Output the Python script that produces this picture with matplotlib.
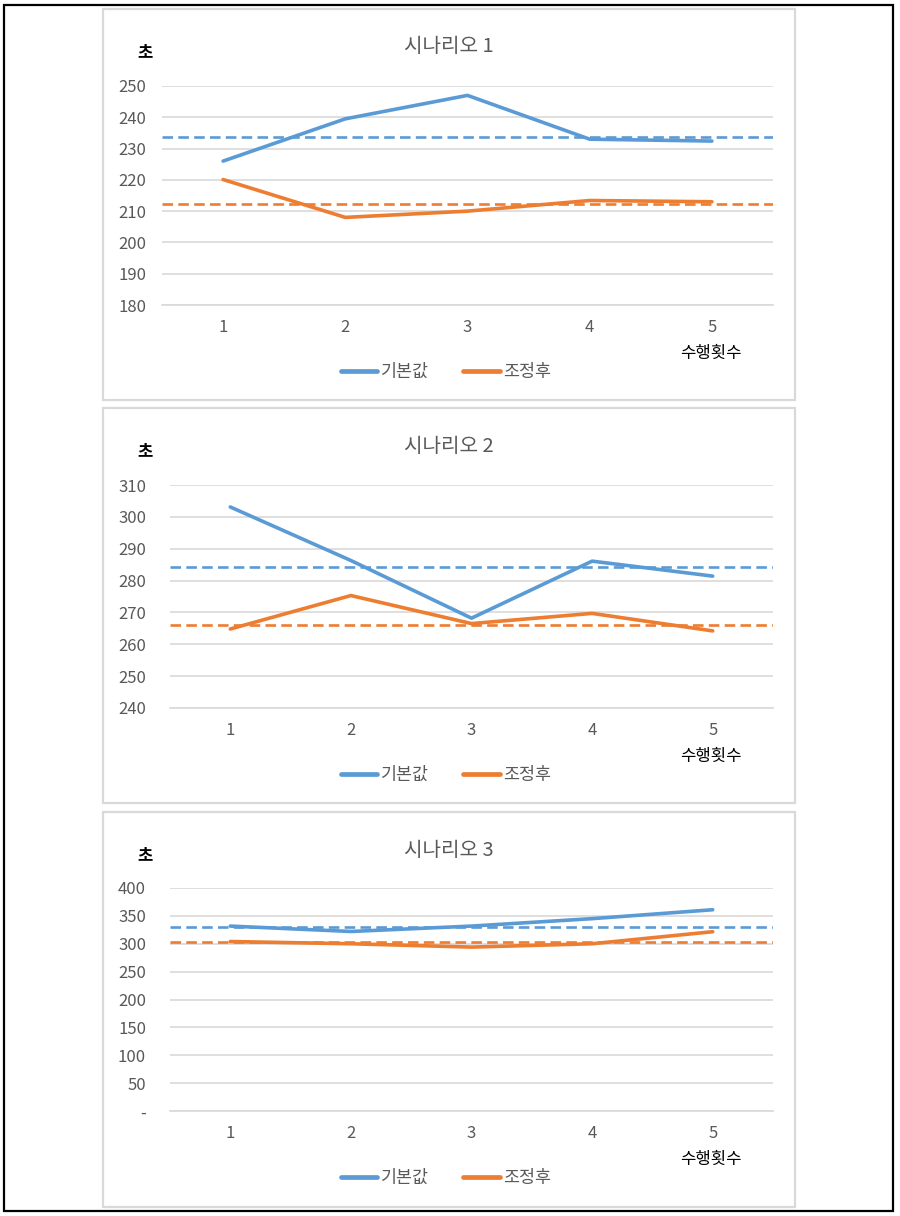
import matplotlib
matplotlib.use("Agg")
import matplotlib.pyplot as plt
from matplotlib.patches import Rectangle

plt.rcParams['font.family'] = ['Noto Sans CJK KR', 'DejaVu Sans']

# data
runs = [1, 2, 3, 4, 5]
titles = ["시나리오 1", "시나리오 2", "시나리오 3"]
base_1 = [226.0, 239.5, 247.0, 233.0, 232.4]
tuned_1 = [220.1, 208.0, 210.0, 213.4, 213.0]
base_2 = [303.1, 286.3, 268.2, 286.1, 281.4]
tuned_2 = [264.8, 275.3, 266.5, 269.7, 264.2]
base_3 = [331.7, 322.0, 331.7, 345.0, 361.0]
tuned_3 = [304.0, 300.0, 294.0, 300.0, 321.6]
avg_base = [233.8, 284.3, 329.3]
avg_tuned = [212.4, 266.0, 303.0]
yticks_1 = [180, 190, 200, 210, 220, 230, 240, 250]
yticks_2 = [240, 250, 260, 270, 280, 290, 300, 310]
yticks_3 = [0, 50, 100, 150, 200, 250, 300, 350, 400]
ylabels_3 = ["-", "50", "100", "150", "200", "250", "300", "350", "400"]

BLUE = "#5B9BD5"
ORANGE = "#ED7D31"
GRAY = "#595959"
GRID = "#D9D9D9"

W, H = 900, 1216
fig = plt.figure(figsize=(W / 100, H / 100), dpi=100)


def fx(px):
    return px / W


def fy(py):
    return 1 - py / H


# outer frame and panel frames
fig.patches.append(Rectangle((fx(4), fy(1211)), fx(889), 1206 / H, transform=fig.transFigure,
                             fill=False, edgecolor="black", linewidth=1.6))
for top, bot in [(9, 400), (408, 803), (812, 1207)]:
    fig.patches.append(Rectangle((fx(103), fy(bot)), fx(692), (bot - top) / H, transform=fig.transFigure,
                                 fill=False, edgecolor=GRID, linewidth=1.6))

panels = [
    # (left, top, bottom, base, tuned, yticks, ylabels, panel_top)
    (162, 86, 305, base_1, tuned_1, yticks_1, [str(v) for v in yticks_1], 9),
    (170, 485, 708, base_2, tuned_2, yticks_2, [str(v) for v in yticks_2], 408),
    (170, 888, 1111, base_3, tuned_3, yticks_3, ylabels_3, 812),
]
right = 773

for i, (left, top, bot, base, tuned, yt, yl, ptop) in enumerate(panels):
    ax = fig.add_axes([fx(left), fy(bot), fx(right - left), (bot - top) / H])
    ax.plot(runs, base, color=BLUE, lw=2.6, label="기본값", solid_joinstyle="round", solid_capstyle="round")
    ax.plot(runs, tuned, color=ORANGE, lw=2.6, label="조정후", solid_joinstyle="round", solid_capstyle="round")
    ax.axhline(avg_base[i], color=BLUE, lw=1.9, ls=(0, (4, 2)))
    ax.axhline(avg_tuned[i], color=ORANGE, lw=1.9, ls=(0, (4, 2)))

    ax.set_xlim(0.5, 5.5)
    ax.set_ylim(yt[0], yt[-1])
    ax.set_xticks(runs)
    ax.set_yticks(yt)
    ax.set_yticklabels(yl)
    ax.yaxis.grid(True, color=GRID, lw=1.2)
    ax.set_axisbelow(True)
    for s in ["top", "right", "left"]:
        ax.spines[s].set_visible(False)
    ax.spines["bottom"].set_color(GRID)
    ax.spines["bottom"].set_linewidth(1.2)
    ax.tick_params(axis="both", length=0, labelsize=12, labelcolor=GRAY)
    ax.tick_params(axis="y", pad=(left - 146) * 0.72)
    ax.tick_params(axis="x", pad=10)

    fig.text(fx(449), fy(ptop + 38), titles[i], ha="center", va="center", fontsize=14.5, color=GRAY)
    fig.text(fx(145), fy(ptop + 43), "초", ha="center", va="center", fontsize=12,
             color="black", fontweight="bold")
    fig.text(fx(711), fy(bot + 48), "수행횟수", ha="center", va="center", fontsize=12, color="black")

    leg = ax.legend(loc="center", bbox_to_anchor=(fx(446), fy(bot + 67)), bbox_transform=fig.transFigure,
                    ncol=2, frameon=False, fontsize=12.5, handlelength=2.1, handletextpad=0.2,
                    columnspacing=2.0)
    for t in leg.get_texts():
        t.set_color(GRAY)
    for ln in leg.get_lines():
        ln.set_linewidth(3.4)

fig.savefig("out.png", dpi=100, facecolor="white")
